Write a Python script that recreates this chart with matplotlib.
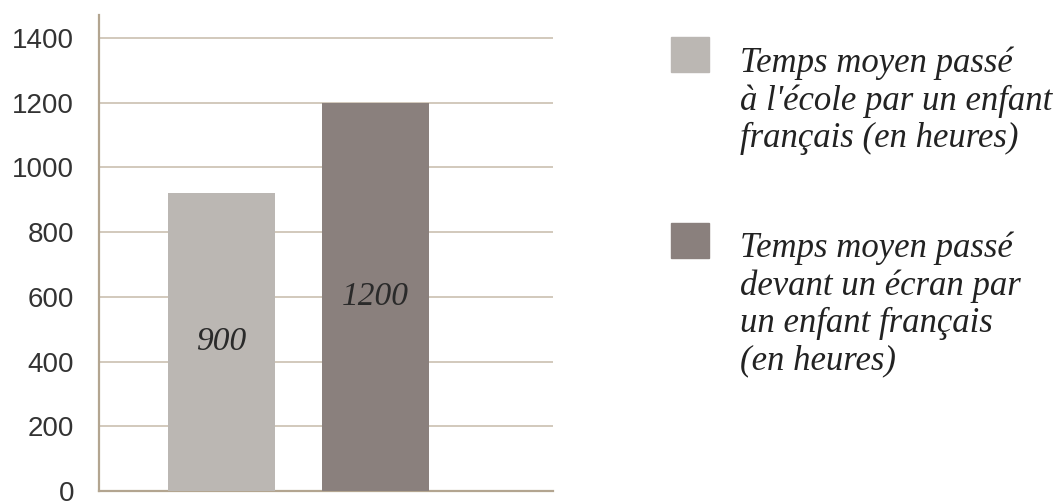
import matplotlib.pyplot as plt
from matplotlib.patches import Rectangle

categories = ['école', 'écran']
values = [920, 1200]
value_labels = ['900', '1200']
colors = ['#bbb7b3', '#8a807d']
legend_labels = [
    "Temps moyen passé\nà l'école par un enfant\nfrançais (en heures)",
    "Temps moyen passé\ndevant un écran par\nun enfant français\n(en heures)",
]
yticks = [0, 200, 400, 600, 800, 1000, 1200, 1400]

grid_col = '#cfc5b6'
spine_col = '#b3a590'
serif = ['Liberation Serif', 'DejaVu Serif']

fig = plt.figure(figsize=(10.59, 5.01), dpi=100)
ax = fig.add_axes([0.0935, 0.02, 0.4287, 0.95])

x = list(range(len(values)))
bars = ax.bar(x, values, width=0.695, color=colors, zorder=3)
for b, lab in zip(bars, value_labels):
    ax.text(b.get_x() + b.get_width() / 2, b.get_height() / 2, lab,
            ha='center', va='center', fontsize=24, style='italic',
            family=serif, color='#2a2a2a', zorder=4)

ax.set_xlim(-0.795, 2.15)
ax.set_ylim(0, 1471)
ax.set_yticks(yticks)
ax.set_yticklabels([str(t) for t in yticks], fontsize=20, color='#333333',
                   family=['Liberation Sans', 'DejaVu Sans'])
ax.tick_params(axis='y', length=0, pad=18)
ax.set_xticks([])
ax.yaxis.grid(True, color=grid_col, linewidth=1.3, zorder=0)
for s in ['top', 'right']:
    ax.spines[s].set_visible(False)
for s in ['left', 'bottom']:
    ax.spines[s].set_color(spine_col)
    ax.spines[s].set_linewidth(1.6)

# legend drawn by hand to keep the italic serif layout
sq_top = [0.926, 0.555]
txt_top = [0.907, 0.538]
for c, lab, sy, ty in zip(colors, legend_labels, sq_top, txt_top):
    fig.patches.append(Rectangle((671 / 1059, sy - 0.069), 38 / 1059, 0.069,
                                 transform=fig.transFigure, color=c))
    fig.text(740 / 1059, ty, lab, ha='left', va='top', fontsize=25,
             style='italic', family=serif, color='#222222', linespacing=1.17)

fig.savefig('out.png', dpi=100)
